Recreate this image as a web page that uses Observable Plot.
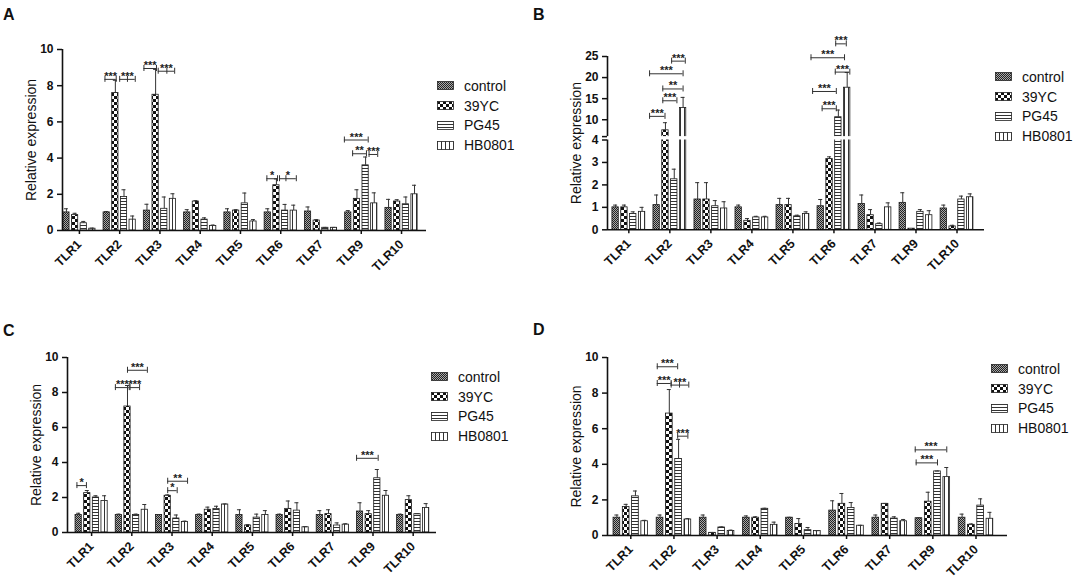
<!DOCTYPE html>
<html>
<head>
<meta charset="utf-8">
<script src="https://cdn.jsdelivr.net/npm/d3@7"></script>
<script src="https://cdn.jsdelivr.net/npm/@observablehq/plot@0.6"></script>
<style>
  body { margin: 0; background: #fff; font-family: Arial, "Liberation Sans", sans-serif; color: #111; }
  #root { position: relative; width: 1084px; height: 587px; overflow: hidden; background: #fff; }
  .panel { position: absolute; }
  .letter { position: absolute; font-weight: bold; font-size: 16px; line-height: 18px; }
  .legend { position: absolute; font-size: 14px; }
  .legend .row { display: flex; align-items: center; height: 19.8px; }
  .legend svg { margin-right: 10px; }
</style>
</head>
<body>
<svg width="0" height="0" style="position:absolute">
  <defs>
    <pattern id="p-control" width="2" height="2" patternUnits="userSpaceOnUse">
      <rect width="2" height="2" fill="#a8a8a8"/>
      <rect width="1" height="1" fill="#222"/>
      <rect x="1" y="1" width="1" height="1" fill="#222"/>
    </pattern>
    <pattern id="p-39yc" width="6" height="6" patternUnits="userSpaceOnUse">
      <rect width="6" height="6" fill="#ffffff"/>
      <rect width="3" height="3" fill="#111"/>
      <rect x="3" y="3" width="3" height="3" fill="#111"/>
    </pattern>
    <pattern id="p-pg45" width="4" height="3" patternUnits="userSpaceOnUse">
      <rect width="4" height="3" fill="#ffffff"/>
      <rect width="4" height="1" fill="#333"/>
    </pattern>
    <pattern id="p-hb" width="4" height="4" patternUnits="userSpaceOnUse">
      <rect width="4" height="4" fill="#ffffff"/>
      <rect width="1" height="4" fill="#333"/>
    </pattern>
  </defs>
</svg>
<div id="root"></div>
<script>
// ---------- data ----------
const tlr = ["TLR1", "TLR2", "TLR3", "TLR4", "TLR5", "TLR6", "TLR7", "TLR9", "TLR10"];
const groups = ["control", "39YC", "PG45", "HB0801"];

// Panel A: mean and SD, one row per group (control, 39YC, PG45, HB0801)
const meanA = [
  [1.0, 1.0, 1.1, 1.0, 1.0, 1.0, 1.05, 1.0, 1.25],
  [0.85, 7.6, 7.5, 1.6, 1.1, 2.5, 0.55, 1.75, 1.6],
  [0.4, 1.85, 1.2, 0.6, 1.5, 1.1, 0.15, 3.6, 1.45],
  [0.1, 0.6, 1.75, 0.25, 0.5, 1.1, 0.15, 1.5, 2.0]
];
const sdA = [
  [0.2, 0.05, 0.35, 0.15, 0.2, 0.2, 0.25, 0.1, 0.47],
  [0.1, 0.7, 1.4, 0.05, 0.05, 0.35, 0.05, 0.5, 0.1],
  [0.1, 0.4, 0.65, 0.1, 0.57, 0.34, 0.02, 0.46, 0.4],
  [0.03, 0.2, 0.28, 0.05, 0.1, 0.3, 0.02, 0.58, 0.5]
];
// significance brackets: [TLR, from group pos, to group pos, level, label, middle tick pos]
const sigA = [
  ["TLR2", -0.2, 1.1, 8.35, "***"],
  ["TLR2", 1.5, 3.3, 8.35, "***", 2.4],
  ["TLR3", -0.35, 1.1, 8.95, "***"],
  ["TLR3", 1.3, 3.2, 8.8, "***", 2.3],
  ["TLR6", -0.1, 1.13, 2.86, "*"],
  ["TLR6", 1.36, 3.3, 2.86, "*", 2.1],
  ["TLR9", -0.45, 2.3, 5.0, "***"],
  ["TLR9", 0.5, 2.1, 4.24, "**"],
  ["TLR9", 2.4, 3.4, 4.2, "***"]
];

// Panel B (broken y axis: 0–4 and 6–25)
const meanB = [
  [1.0, 1.1, 1.35, 1.0, 1.1, 1.05, 1.15, 1.2, 0.95],
  [1.0, 7.5, 1.35, 0.4, 1.1, 3.15, 0.65, 0.05, 0.15],
  [0.7, 2.25, 1.05, 0.55, 0.6, 10.6, 0.25, 0.8, 1.35],
  [0.8, 12.8, 0.95, 0.55, 0.7, 17.6, 1.0, 0.65, 1.45]
];
const sdB = [
  [0.1, 0.45, 0.75, 0.1, 0.3, 0.3, 0.4, 0.45, 0.15],
  [0.1, 1.8, 0.75, 0.1, 0.3, 0.1, 0.25, 0.0, 0.05],
  [0.1, 0.45, 0.25, 0.05, 0.05, 1.7, 0.05, 0.1, 0.15],
  [0.2, 2.5, 0.3, 0.05, 0.1, 3.6, 0.2, 0.2, 0.15]
];
const sigB = [
  ["TLR2", -0.8, 0.95, 10.8, "***"],
  ["TLR2", 0.7, 2.3, 14.5, "***"],
  ["TLR2", 0.7, 3.0, 17.3, "**"],
  ["TLR2", -0.8, 3.0, 20.9, "***"],
  ["TLR2", 1.7, 3.25, 23.9, "***"],
  ["TLR6", 0.16, 1.77, 12.6, "***"],
  ["TLR6", -0.92, 1.77, 16.7, "***"],
  ["TLR6", 1.65, 3.3, 21.3, "***"],
  ["TLR6", -1.1, 2.7, 24.7, "***"],
  ["TLR6", 1.7, 2.9, 28.0, "***"]
];
const yTicksB = [0, 1, 2, 3, 4, 6, 10, 15, 20, 25];
const breakB = [4, 6];

// Panel C
const meanC = [
  [1.0, 1.0, 1.0, 1.0, 1.0, 1.0, 1.0, 1.2, 1.0],
  [2.25, 7.2, 2.1, 1.3, 0.4, 1.35, 1.05, 1.05, 1.85],
  [2.0, 1.0, 0.8, 1.35, 0.85, 1.25, 0.4, 3.1, 1.05],
  [1.8, 1.3, 0.6, 1.6, 1.0, 0.3, 0.45, 2.1, 1.4]
];
const sdC = [
  [0.1, 0.05, 0.02, 0.05, 0.3, 0.05, 0.25, 0.5, 0.05],
  [0.15, 1.2, 0.05, 0.15, 0.05, 0.45, 0.25, 0.2, 0.25],
  [0.1, 0.05, 0.2, 0.15, 0.2, 0.45, 0.15, 0.5, 0.02],
  [0.3, 0.3, 0.05, 0.03, 0.25, 0.03, 0.05, 0.3, 0.25]
];
const sigC = [
  ["TLR1", -0.2, 0.9, 2.68, "*"],
  ["TLR2", -0.4, 1.2, 8.28, "***"],
  ["TLR2", 1.3, 2.4, 8.28, "***"],
  ["TLR2", 1.0, 3.3, 9.27, "***"],
  ["TLR3", 1.0, 2.1, 2.39, "*"],
  ["TLR3", 1.0, 3.3, 2.93, "**"],
  ["TLR9", -0.4, 2.1, 4.24, "***"]
];

// Panel D
const meanD = [
  [1.0, 1.0, 1.0, 1.0, 1.0, 1.4, 1.0, 0.97, 1.0],
  [1.6, 6.85, 0.15, 1.0, 0.65, 1.78, 1.78, 1.9, 0.6],
  [2.2, 4.3, 0.45, 1.5, 0.3, 1.55, 0.95, 3.6, 1.68],
  [0.8, 0.9, 0.25, 0.6, 0.25, 0.55, 0.8, 3.28, 0.94]
];
const sdD = [
  [0.15, 0.15, 0.15, 0.1, 0.02, 0.55, 0.15, 0.02, 0.2],
  [0.15, 1.35, 0.02, 0.05, 0.3, 0.58, 0.02, 0.53, 0.05],
  [0.3, 1.1, 0.03, 0.03, 0.15, 0.3, 0.1, 0.02, 0.38],
  [0.05, 0.05, 0.05, 0.15, 0.02, 0.02, 0.1, 0.54, 0.36]
];
const sigD = [
  ["TLR2", -0.3, 1.9, 9.48, "***"],
  ["TLR2", -0.3, 1.2, 8.54, "***"],
  ["TLR2", 1.2, 3.1, 8.45, "***", 2.1],
  ["TLR2", 1.9, 3.0, 5.58, "***"],
  ["TLR9", -0.4, 3.0, 4.81, "***"],
  ["TLR9", -0.3, 2.0, 4.08, "***"]
];
const yTicks10 = [0, 2, 4, 6, 8, 10];

// ---------- drawing ----------
const FONT = 'Arial, "Liberation Sans", sans-serif';
const STEP = 0.215, BW = 0.155;
const pos = (g, s) => g + (s - 1.5) * STEP;
const pats = ["url(#p-control)", "url(#p-39yc)", "url(#p-pg45)", "url(#p-hb)"];
const root = d3.select("#root");
const identity = v => v;

// broken-axis transform for panel B: lower segment at full scale, small gap, compressed upper segment
const UPPER_K = 0.1878, GAP_U = 0.151;
const breakTf = v => v <= breakB[0] ? v
  : v >= breakB[1] ? breakB[0] + GAP_U + (v - breakB[1]) * UPPER_K
  : breakB[0] + GAP_U * (v - breakB[0]) / (breakB[1] - breakB[0]);

function rowsOf(mean, sd, tf) {
  const out = [];
  tlr.forEach((t, g) => groups.forEach((name, s) => {
    const m = mean[s][g], e = sd[s][g], x = pos(g, s);
    out.push({g, s, x, x1: x - BW / 2, x2: x + BW / 2, mean: tf(m), top: tf(m + e), hasErr: e > 0.001, fill: pats[s]});
  }));
  return out;
}

function drawPanel(cfg) {
  const tf = cfg.tf || identity;
  const rows = rowsOf(cfg.mean, cfg.sd, tf);
  const errRows = rows.filter(d => d.hasErr);
  const sig = cfg.sig.map(([t, a, b, y, label, mid]) => {
    const g = tlr.indexOf(t);
    const ends = [pos(g, a), pos(g, b)];
    if (mid != null) ends.push(pos(g, mid));
    return {x1: pos(g, a), x2: pos(g, b), y: tf(y), label, ends};
  });
  const ends = sig.flatMap(d => d.ends.map(x => ({x, y: d.y})));
  const tickLabel = new Map(cfg.yTicks.map(v => [tf(v), cfg.yFormat ? cfg.yFormat(v) : String(v)]));

  const marks = [
    Plot.rectY(rows, {x1: "x1", x2: "x2", y1: 0, y2: "mean", fill: "fill", stroke: "#1a1a1a", strokeWidth: 0.8}),
    Plot.ruleX(errRows, {x: "x", y1: "mean", y2: "top", stroke: "#333", strokeWidth: 1}),
    Plot.ruleY(errRows, {y: "top", x1: "x", x2: "x", insetLeft: -2, insetRight: -2, stroke: "#333", strokeWidth: 1})
  ];
  if (cfg.gap) {
    marks.push(Plot.rect([cfg.gap], {x1: cfg.xDomain[0], x2: cfg.xDomain[1], y1: d => tf(d[0]), y2: d => tf(d[1]), fill: "white"}));
  }
  marks.push(
    Plot.ruleY(sig, {y: "y", x1: "x1", x2: "x2", stroke: "#333", strokeWidth: 1}),
    Plot.ruleX(ends, {x: "x", y1: "y", y2: "y", insetTop: -3, insetBottom: -3, stroke: "#333", strokeWidth: 1}),
    Plot.text(sig, {x: d => (d.x1 + d.x2) / 2, y: "y", text: "label", dy: -3, lineAnchor: "middle", fontSize: 11, fontWeight: "bold", fill: "#222"}),
    Plot.ruleY([0], {stroke: "#111", strokeWidth: 1.6}),
    Plot.ruleX(cfg.ySegments, {x: cfg.xDomain[0], y1: d => tf(d[0]), y2: d => tf(d[1]), stroke: "#111", strokeWidth: 1.6}),
    Plot.axisY({ticks: cfg.yTicks.map(tf), tickFormat: t => tickLabel.get(t), tickSize: 5, strokeWidth: 1.5,
      fontSize: 12, fontWeight: "bold", label: "Relative expression", labelAnchor: "center", labelArrow: "none", labelOffset: 36}),
    Plot.axisX({ticks: d3.range(tlr.length), tickFormat: i => tlr[i], tickRotate: -45, tickSize: 4, strokeWidth: 1.5,
      fontSize: 12.5, fontWeight: "bold", label: null})
  );

  const chart = Plot.plot({
    width: cfg.width,
    height: cfg.height,
    marginLeft: cfg.ml, marginRight: cfg.mr, marginTop: cfg.mt, marginBottom: cfg.mb,
    x: {type: "linear", domain: cfg.xDomain},
    y: {type: "linear", domain: [0, tf(cfg.yMax)]},
    color: {type: "identity"},
    style: {fontFamily: FONT, fontSize: "12px", color: "#111", background: "transparent", overflow: "visible"},
    marks
  });
  const holder = root.append("div").attr("class", "panel")
    .style("left", cfg.left + "px").style("top", cfg.top + "px");
  holder.node().appendChild(chart);

  d3.select(chart).selectAll("text").filter(function() { return this.textContent === "Relative expression"; })
    .attr("font-weight", "normal").attr("font-size", 14);

  root.append("div").attr("class", "letter").style("left", cfg.letterPos[0] + "px").style("top", cfg.letterPos[1] + "px").text(cfg.letter);

  const lg = root.append("div").attr("class", "legend").style("left", cfg.legendPos[0] + "px").style("top", cfg.legendPos[1] + "px");
  groups.forEach((name, s) => {
    const row = lg.append("div").attr("class", "row");
    const sv = row.append("svg").attr("width", 17).attr("height", 9);
    sv.append("rect").attr("x", 0.5).attr("y", 0.5).attr("width", 16).attr("height", 8)
      .attr("fill", pats[s]).attr("stroke", "#222").attr("stroke-width", 0.8);
    row.append("span").text(name);
  });
}

drawPanel({letter: "A", letterPos: [3, 6], legendPos: [437, 76],
  left: 0, top: 0, width: 540, height: 290, ml: 62, mr: 114, mt: 49, mb: 60,
  xDomain: [-0.42, 8.62], yMax: 10, yTicks: yTicks10, ySegments: [[0, 10]],
  mean: meanA, sd: sdA, sig: sigA});

drawPanel({letter: "B", letterPos: [533, 6], legendPos: [995, 67],
  left: 540, top: 0, width: 544, height: 290, ml: 67, mr: 100, mt: 56, mb: 60.7,
  xDomain: [-0.52, 8.67], yMax: 25, tf: breakTf,
  yTicks: yTicksB, yFormat: d => (d === 6 ? "" : String(d)), ySegments: [[0, 4], [6, 25]], gap: breakB,
  mean: meanB, sd: sdB, sig: sigB});

drawPanel({letter: "C", letterPos: [3, 322], legendPos: [431, 367],
  left: 0, top: 290, width: 540, height: 297, ml: 67, mr: 104, mt: 67, mb: 55,
  xDomain: [-0.60, 8.58], yMax: 10, yTicks: yTicks10, ySegments: [[0, 10]],
  mean: meanC, sd: sdC, sig: sigC});

drawPanel({letter: "D", letterPos: [533, 321], legendPos: [991, 359],
  left: 540, top: 290, width: 544, height: 297, ml: 67, mr: 77, mt: 67, mb: 52,
  xDomain: [-0.54, 8.73], yMax: 10, yTicks: yTicks10, ySegments: [[0, 10]],
  mean: meanD, sd: sdD, sig: sigD});
</script>
</body>
</html>
